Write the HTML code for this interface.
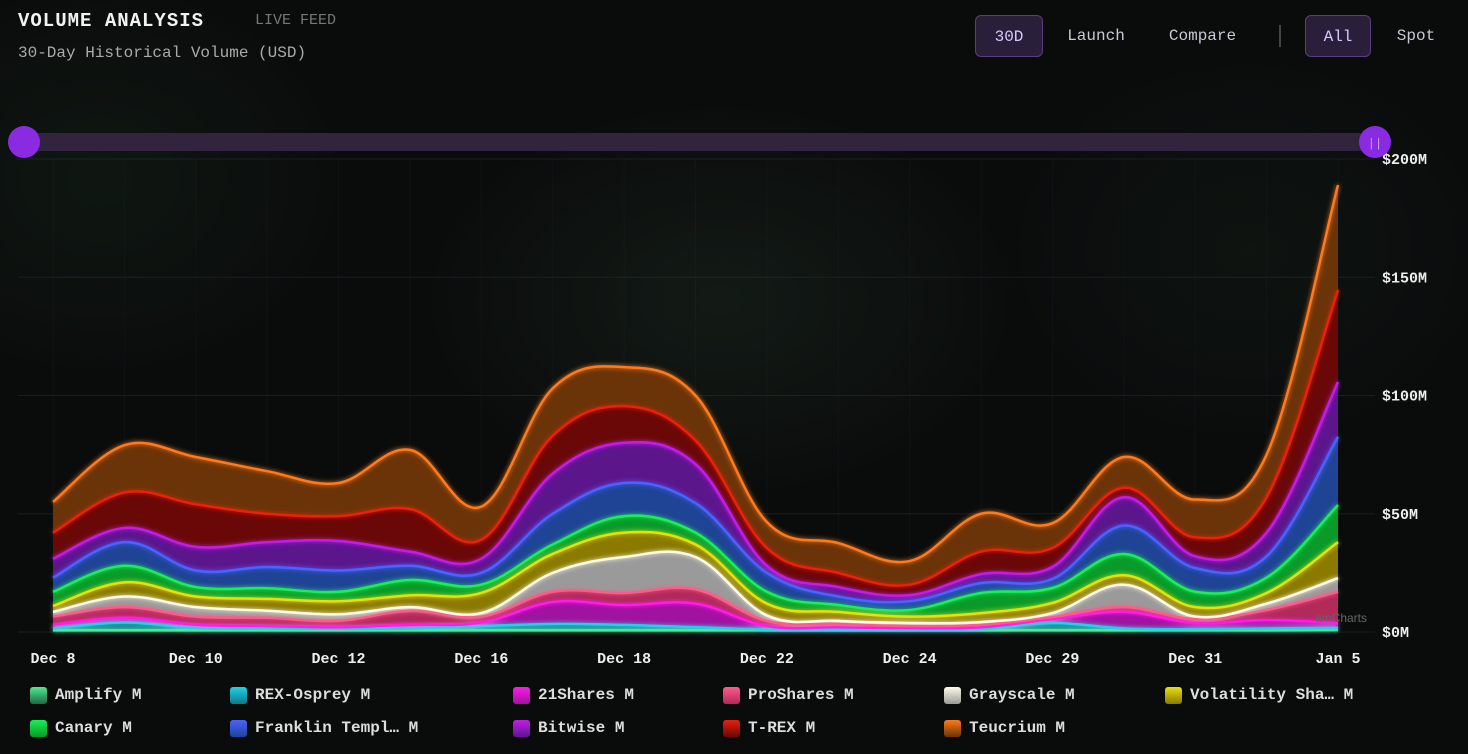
<!DOCTYPE html>
<html><head><meta charset="utf-8"><style>
html,body{margin:0;padding:0;background:#0a0c0c;width:1468px;height:754px;overflow:hidden;font-family:"Liberation Mono",monospace;color:#ddd}
.abs{position:absolute}
.btn{position:absolute;top:15px;height:42px;line-height:42px;font-size:16px;color:#c9c9d4;text-align:center}
.sel{background:#2a1f3a;border:1px solid #5a3c80;border-radius:6px;color:#d8c8ff;box-sizing:border-box}
.leg{position:absolute;font-size:16px;font-weight:bold;color:#ddd;display:flex;align-items:center;gap:8px}
.sw{width:17px;height:17px;border-radius:3px}
</style></head><body>
<div class="abs" style="left:0;top:0;width:1468px;height:754px;background:radial-gradient(ellipse 300px 200px at 720px 300px,rgba(40,60,45,0.3),transparent),radial-gradient(ellipse 250px 200px at 100px 180px,rgba(30,55,35,0.25),transparent),radial-gradient(ellipse 250px 200px at 1250px 250px,rgba(30,50,35,0.2),transparent)"></div>
<div class="abs" style="left:18px;top:10px;font-size:19px;font-weight:bold;color:#f2f2f2;letter-spacing:1px">VOLUME ANALYSIS</div>
<div class="abs" style="left:255px;top:12px;font-size:15px;color:#777">LIVE FEED</div>
<div class="abs" style="left:18px;top:44px;font-size:16px;color:#aaa">30-Day Historical Volume (USD)</div>
<div class="btn sel" style="left:975px;width:68px">30D</div>
<div class="btn" style="left:1060px;width:72px">Launch</div>
<div class="btn" style="left:1160px;width:85px">Compare</div>
<div class="abs" style="left:1279px;top:25px;width:2px;height:22px;background:#444"></div>
<div class="btn sel" style="left:1305px;width:66px">All</div>
<div class="btn" style="left:1392px;width:48px">Spot</div>

<svg id="chart" class="abs" style="left:0;top:0" width="1468" height="754">
<defs><filter id="glow" x="-10%" y="-10%" width="120%" height="120%"><feGaussianBlur stdDeviation="2.5" result="b"/><feMerge><feMergeNode in="b"/><feMergeNode in="SourceGraphic"/></feMerge></filter></defs>
<g id="grid"></g><g id="areas"></g><g id="lines" filter="url(#glow)"></g><g id="axes"></g>
<rect x="18" y="133" width="1357" height="18" fill="#32243f"/>
<circle cx="24" cy="142" r="16" fill="#8a2be2"/>
<circle cx="1375" cy="142" r="16" fill="#8a2be2"/>
<text x="1375" y="147" fill="#c9a0ff" font-size="12" text-anchor="middle">||</text>
<text x="1367" y="622" fill="#666" font-size="12" font-family="Liberation Sans,sans-serif" text-anchor="end">amCharts</text>
</svg>
<div id="legend"></div>
<script>
const categories=["Dec 8","Dec 9","Dec 10","Dec 11","Dec 12","Dec 15","Dec 16","Dec 17","Dec 18","Dec 19","Dec 22","Dec 23","Dec 24","Dec 26","Dec 29","Dec 30","Dec 31","Jan 2","Jan 5"];
const tickLabels=["Dec 8","Dec 10","Dec 12","Dec 16","Dec 18","Dec 22","Dec 24","Dec 29","Dec 31","Jan 5"];
const yTicks=[0,50,100,150,200];
const seriesNames=["Amplify","REX-Osprey","21Shares","ProShares","Grayscale","Volatility Sha…","Canary","Franklin Templ…","Bitwise","T-REX","Teucrium"];
const amplify=[0.8,0.8,0.8,0.8,0.8,0.8,0.8,0.8,0.8,0.8,0.8,0.8,0.8,0.8,0.8,0.8,0.8,0.8,1.0];
const rexOsprey=[0.7,3.2,0.9,0.7,0.5,0.7,1.7,2.6,2.2,1.2,0.3,0.2,0.2,0.4,3.0,0.7,0.4,0.7,0.7];
const shares21=[1.5,2,1.3,1,0.7,1.5,1.5,9.3,8.4,10,1.4,1,0.7,0.8,1.7,7,2.6,3.5,2.1];
const proShares=[3.5,4.5,3.5,3.5,2.7,6,2.5,4.3,5.1,6,2.2,1.4,0.8,1,0.8,2,1.7,4.3,13.2];
const grayscale=[2,4.5,4,3,2.8,1.5,1.5,8,15.2,13.7,2.3,1.3,1.3,1.2,1.7,9.5,1,2.7,5.8];
const volatility=[2.5,6,4.5,5,5.5,5,8.5,8,10.3,5.3,5,3.8,2.7,3.8,4.3,4,4,4.5,15.2];
const canary=[6,7,4,4.5,4,6.5,3.5,4,7,5,5,2.9,2.8,8.5,6.3,9,6.5,6.5,15.7];
const franklin=[6,10,7,9,9,6,5,13,14,12.5,8,3.6,3.7,4.2,3.8,12,10,9,28.8];
const bitwise=[8,6,10,10.5,12.5,6,6,17,17,16.5,3,4,2.6,3.8,5.1,12,5,10,23.2];
const trex=[11,15,18,12,10.5,18,8,16,15.5,10,7.5,6,4.4,9.5,8,4,8,15,38.9];
const teucrium=[13,20,20,18,14,25,14,20,16.5,19,11,12.6,10,16,10.5,13,16,18,44.4];
const series=[amplify,rexOsprey,shares21,proShares,grayscale,volatility,canary,franklin,bitwise,trex,teucrium];
const strokes=["#50e890","#20d0e8","#ff1ae8","#ff5a8a","#fffbe8","#e8e010","#1aee55","#4a63ff","#c21ee8","#e8200c","#ff7a1a"];
const fills=["#1d6a45","#0f7a88","#a012a0","#b02a5a","#9a9a9a","#8a7a00","#0a9a2a","#1f4496","#5c168c","#6a0808","#6b3408"];
const X0=53,X1=1338,Y0=632,Y1=159,YMAX=200;
function xs(i){return X0+i*(X1-X0)/(categories.length-1);}
function ys(v){return Y0-v*(Y0-Y1)/YMAX;}
const NS="http://www.w3.org/2000/svg";
function mk(t,a,p){const e=document.createElementNS(NS,t);for(const k in a)e.setAttribute(k,a[k]);p.appendChild(e);return e;}
function curve(pts){let d="M"+pts[0][0]+","+pts[0][1];const t=0.18;
for(let i=0;i<pts.length-1;i++){const p0=pts[Math.max(0,i-1)],p1=pts[i],p2=pts[i+1],p3=pts[Math.min(pts.length-1,i+2)];
d+=" C"+(p1[0]+(p2[0]-p0[0])*t)+","+(p1[1]+(p2[1]-p0[1])*t)+" "+(p2[0]-(p3[0]-p1[0])*t)+","+(p2[1]-(p3[1]-p1[1])*t)+" "+p2[0]+","+p2[1];}return d;}
const grid=document.getElementById("grid"),areas=document.getElementById("areas"),lines=document.getElementById("lines"),axes=document.getElementById("axes");
yTicks.forEach(v=>{const l=mk("line",{x1:18,x2:1375,y1:ys(v),y2:ys(v),stroke:"rgba(90,90,140,0.2)","stroke-width":1},grid);


const t=mk("text",{x:1382,y:ys(v)+5,fill:"#eee","font-size":15,"font-weight":"bold","font-family":"Liberation Mono,monospace"},axes);t.textContent="$"+v+"M";

});
categories.forEach((c,i)=>{const l=mk("line",{x1:xs(i),x2:xs(i),y1:159,y2:632,stroke:"rgba(90,90,140,0.07)","stroke-width":1},grid);


if(tickLabels.indexOf(c)>=0){const t=mk("text",{x:xs(i),y:663,fill:"#eee","font-size":15,"font-weight":"bold","text-anchor":"middle","font-family":"Liberation Mono,monospace"},axes);t.textContent=c;

}});
const cum=[];let acc=categories.map(()=>0);
series.forEach(s=>{acc=acc.map((a,i)=>a+s[i]);cum.push(acc.slice());});
for(let k=series.length-1;k>=0;k--){const pts=cum[k].map((v,i)=>[xs(i),ys(v)]);
const d=curve(pts)+" L"+xs(categories.length-1)+","+Y0+" L"+xs(0)+","+Y0+" Z";
const a=mk("path",{d:d,fill:fills[k]},areas);

}
for(let k=0;k<series.length;k++){const pts=cum[k].map((v,i)=>[xs(i),ys(v)]);
const l=mk("path",{d:curve(pts),fill:"none",stroke:strokes[k],"stroke-width":2.5},lines);

}
const lg=document.getElementById("legend");
const lx=[30,230,513,723,944,1165];
seriesNames.forEach((n,k)=>{const d=document.createElement("div");d.className="leg";


const r=k<6?0:1,c=k<6?k:k-6;d.style.left=lx[c]+"px";d.style.top=(r?719:686)+"px";
d.innerHTML='<span class="sw" style="background:linear-gradient('+strokes[k]+','+fills[k]+')"></span><span>'+n+' M</span>';lg.appendChild(d);});
</script>
</body></html>
